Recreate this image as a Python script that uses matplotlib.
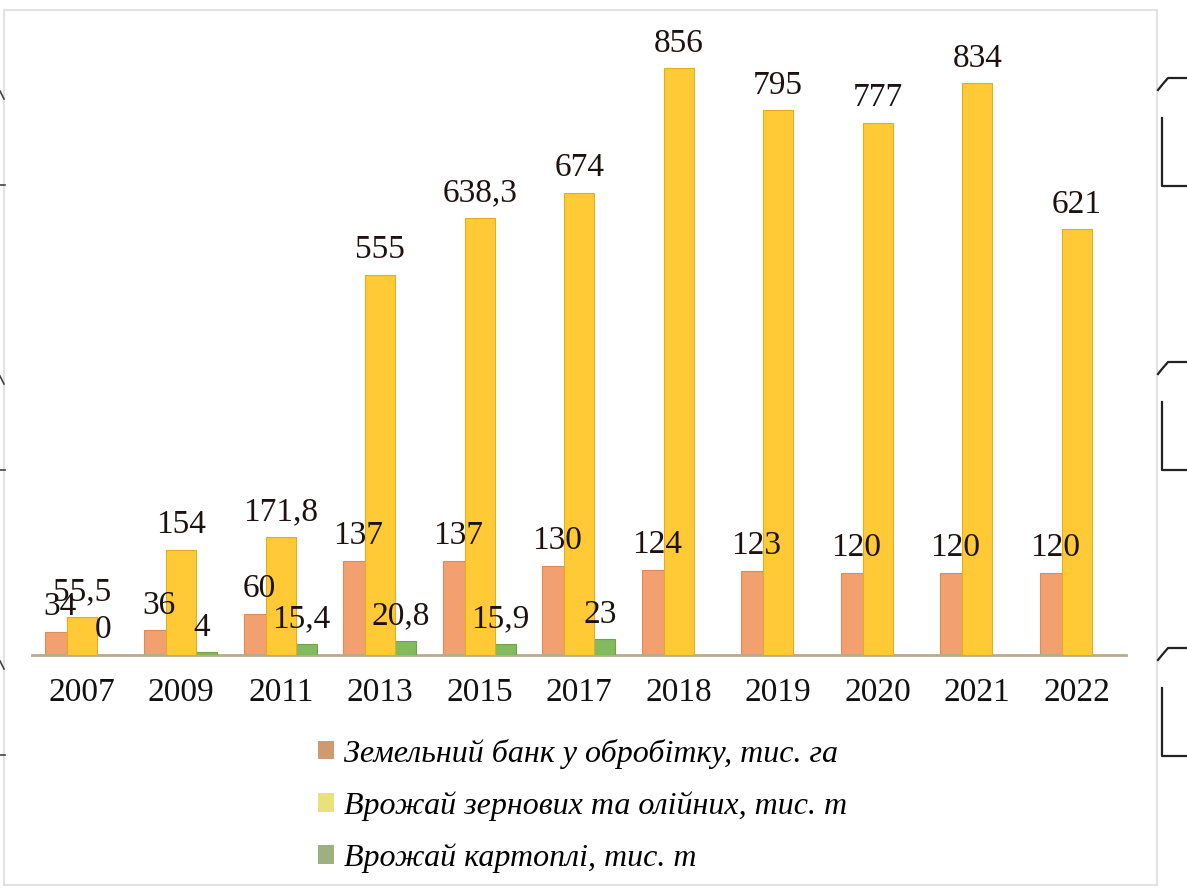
import numpy as np
import matplotlib.pyplot as plt
from matplotlib.patches import Patch, Rectangle
from matplotlib.lines import Line2D

years = ['2007', '2009', '2011', '2013', '2015', '2017',
         '2018', '2019', '2020', '2021', '2022']
land_bank = [34, 36, 60, 137, 137, 130, 124, 123, 120, 120, 120]
grain_yield = [55.5, 154, 171.8, 555, 638.3, 674, 856, 795, 777, 834, 621]
potato_yield = [0, 4, 15.4, 20.8, 15.9, 23, np.nan, np.nan, np.nan, np.nan, np.nan]

labels = ['Земельний банк у обробітку, тис. га',
          'Врожай зернових та олійних, тис. т',
          'Врожай картоплі, тис. т']

serif = 'Liberation Serif'


def fmt(v):
    """Ukrainian number format: decimal comma, no trailing .0"""
    if float(v).is_integer():
        return str(int(v))
    return ('%g' % v).replace('.', ',')


fig = plt.figure(figsize=(11.87, 8.90), dpi=100)
ax = fig.add_axes([0.027, 0.264, 0.922, 0.693])

x = np.arange(len(years))
w = 0.30
series = [
    (land_bank, -0.22, '#F2A070', '#DC8C5C', 2),
    (grain_yield, 0.0, '#FFCA35', '#E0AE20', 4),
    (potato_yield, 0.21, '#82BB5E', '#6EA24C', 3),
]
for vals, off, color, edge, z in series:
    vals = np.asarray(vals, dtype=float)
    ax.bar(x + off, vals, width=w, color=color, edgecolor=edge,
           linewidth=0.8, zorder=z)
    for xi, v in zip(x, vals):
        if np.isnan(v):
            continue
        ax.annotate(fmt(v), (xi + off, v), xytext=(0, 7),
                    textcoords='offset points', ha='center', va='bottom',
                    fontsize=24, family=serif, color='#1c1212', zorder=5)

ax.set_xlim(-0.5, 10.5)
ax.set_ylim(0, 900)
ax.set_xticks(x)
ax.set_xticklabels(years, fontsize=24, family=serif, color='#111111')
ax.tick_params(axis='x', length=0, pad=16)
ax.set_yticks([])
for s in ['top', 'right', 'left']:
    ax.spines[s].set_visible(False)
ax.spines['bottom'].set_color('#b9aa90')
ax.spines['bottom'].set_linewidth(2)
ax.set_facecolor('none')

handles = [Patch(facecolor=c, edgecolor='none') for c in ['#CF9A70', '#E9E27C', '#9DB07F']]
fig.legend(handles, labels, loc='upper left', bbox_to_anchor=(0.268, 0.170),
           frameon=False, prop={'family': serif, 'style': 'italic', 'size': 23},
           handlelength=0.5, handleheight=0.5, handletextpad=0.3,
           labelspacing=0.7, borderaxespad=0, borderpad=0)

# outer frame of the chart area
W, H = 1187, 890
fig.add_artist(Rectangle((4 / W, 1 - 885 / H), (1157 - 4) / W, (885 - 10) / H,
                         transform=fig.transFigure, fill=False,
                         edgecolor='#e2e2e2', linewidth=1.5))


# cut-off marks along the edges
def px_line(xs, ys, **kw):
    fig.add_artist(Line2D([v / W for v in xs], [1 - v / H for v in ys],
                          transform=fig.transFigure, **kw))


for y0 in [78, 362, 648]:
    px_line([1158, 1162, 1168, 1187], [y0 + 12, y0 + 7, y0, y0],
            color='#222222', linewidth=1.6)
    px_line([1162, 1162, 1187], [y0 + 40, y0 + 108, y0 + 108], color='#222222', linewidth=1.6)

for y0 in [95, 380, 665]:
    px_line([0, 4], [y0 - 4, y0 + 4], color='#444444', linewidth=1.2)
    px_line([0, 5], [y0 + 90, y0 + 90], color='#444444', linewidth=1.2)

fig.savefig('out.png', dpi=100, facecolor='white')
